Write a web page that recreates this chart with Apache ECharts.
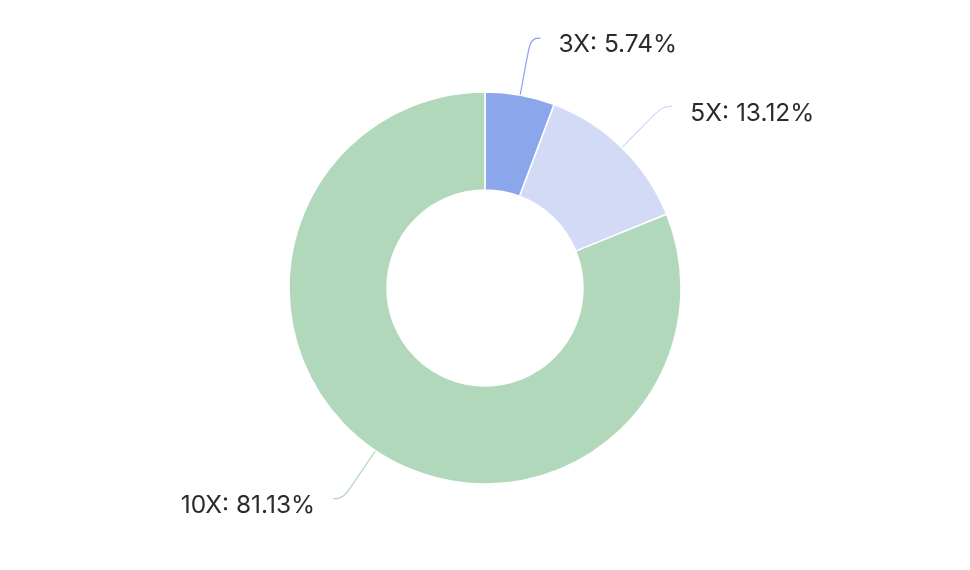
<!DOCTYPE html>
<html>
<head>
<meta charset="utf-8">
<script src="https://cdn.jsdelivr.net/npm/echarts@6/dist/echarts.min.js"></script>
<style>html,body{margin:0;padding:0;background:#fff;}#c{width:970px;height:570px;}</style>
</head>
<body>
<div id="c"></div>
<script>
const categories = ['3X', '5X', '10X'];
const values = [5.74, 13.12, 81.13];
const colors = ['#8ca6ec', '#d3daf5', '#b2d8bb'];

const chart = echarts.init(document.getElementById('c'), null, {renderer: 'canvas'});
chart.setOption({
  animation: false,
  series: [{
    type: 'pie',
    center: [485, 288],
    radius: [98, 196],
    startAngle: 90,
    clockwise: true,
    avoidLabelOverlap: false,
    itemStyle: {borderColor: '#fff', borderWidth: 1.5},
    label: {
      formatter: function (p) { return p.name + ': ' + p.value.toFixed(2) + '%'; },
      fontSize: 24.5,
      fontFamily: 'Inter, sans-serif',
      color: '#2b2b2b',
      distanceToLabelLine: 18
    },
    labelLayout: {dy: 7},
    labelLine: {length: 58, length2: 10, smooth: 0.5, lineStyle: {width: 1.2}},
    data: categories.map((c, i) => ({name: c, value: values[i], itemStyle: {color: colors[i]}}))
  }]
});
</script>
</body>
</html>
